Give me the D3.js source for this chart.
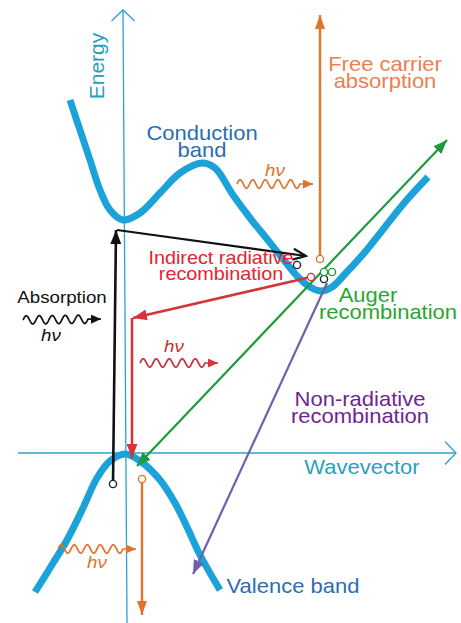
<!DOCTYPE html>
<html>
<head>
<meta charset="utf-8">
<script src="https://cdn.jsdelivr.net/npm/d3@7"></script>
<style>
body{margin:0;background:#fff;}
text{font-family:"Liberation Sans",Arial,Helvetica,sans-serif;}
</style>
</head>
<body>
<script>
(function(){

//band structure, points as [wavevector k, energy E]
var conductionBand = [[-0.53,3.53],[-0.43,3.23],[-0.33,2.93],[-0.23,2.63],[-0.13,2.43],[0,2.33],[0.17,2.40],[0.37,2.60],[0.57,2.80],[0.79,2.90],[0.92,2.85],[1.10,2.58],[1.27,2.35],[1.44,2.14],[1.60,1.94],[1.74,1.77],[1.87,1.66],[1.98,1.62],[2.09,1.66],[2.22,1.79],[2.42,2.01],[2.82,2.51],[3.05,2.76]];
var valenceBand = [[-0.88,-1.39],[-0.73,-1.15],[-0.56,-0.87],[-0.40,-0.55],[-0.26,-0.25],[-0.13,-0.08],[0.02,-0.01],[0.17,-0.08],[0.37,-0.27],[0.52,-0.50],[0.64,-0.74],[0.77,-1.02],[0.97,-1.37]];

//axes
var energyAxis = [[0,4.43],[0.04,-1.70]];
var wavevectorAxis = [[-1.05,0],[3.33,0]];

//transitions [from, to]
var absorptionUp = [[-0.10,-0.31],[-0.07,2.23]];
var absorptionOver = [[-0.06,2.23],[1.83,1.97]];
var freeCarrierUp = [[1.97,1.94],[1.97,4.38]];
var indirectOver = [[1.88,1.76],[0.10,1.35]];
var indirectDown = [[0.09,1.35],[0.09,-0.05]];
var augerLine = [[0.14,-0.13],[3.24,3.13]];
var nonRadiative = [[2.04,1.70],[0.70,-1.21]];
var holeDown = [[0.19,-0.26],[0.19,-1.62]];

//carrier circles
var blackCarriers = [[-0.10,-0.31],[1.74,1.88],[2.01,1.74]];
var orangeCarriers = [[1.97,1.94],[0.19,-0.26]];
var redCarriers = [[1.88,1.76]];
var greenCarriers = [[2.01,1.81],[2.09,1.81]];

//photons [start, end]
var photonTop = [[1.14,2.69],[1.90,2.69]];
var photonAbs = [[-1.00,1.33],[-0.22,1.34]];
var photonRad = [[0.17,0.90],[0.95,0.90]];
var photonLow = [[-0.65,-0.96],[0.13,-0.96]];

//label texts
var conductionText = ["Conduction", "band"];
var valenceText = ["Valence band"];
var freeCarrierText = ["Free carrier", "absorption"];
var indirectText = ["Indirect radiative", "recombination"];
var absorptionText = ["Absorption"];
var augerText = ["Auger", "recombination"];
var nonRadText = ["Non-radiative", "recombination"];

var width = 461, height = 623;

var x = d3.scaleLinear().domain([-1.23, 3.38]).range([0, width]);
var y = d3.scaleLinear().domain([4.53, -1.70]).range([0, height]);

var svg = d3.select("body").append("svg")
    .attr("width", width)
    .attr("height", height);

var defs = svg.append("defs");

//filled triangle markers
function addMarker(id, color, len, wid){
    defs.append("marker")
        .attr("id", id)
        .attr("markerUnits", "userSpaceOnUse")
        .attr("viewBox", "0 0 " + len + " " + wid)
        .attr("refX", len).attr("refY", wid / 2)
        .attr("markerWidth", len).attr("markerHeight", wid)
        .attr("orient", "auto-start-reverse")
        .append("path")
        .attr("d", "M0,0L" + len + "," + (wid / 2) + "L0," + wid + "Z")
        .attr("fill", color);
}
addMarker("mBlack", "#111", 14, 11);
addMarker("mOrange", "#e0742c", 14, 10);
addMarker("mRed", "#d2363a", 14, 11);
addMarker("mGreen", "#1f9a3c", 14, 11);
addMarker("mPurple", "#6b62aa", 14, 11);
addMarker("mOrangeS", "#e0742c", 10, 9);
addMarker("mBlackS", "#111", 10, 9);
addMarker("mRedS", "#d2363a", 10, 9);

//open chevron markers
function addChevron(id, color, len, wid, sw){
    defs.append("marker")
        .attr("id", id)
        .attr("markerUnits", "userSpaceOnUse")
        .attr("viewBox", (-2) + " " + (-2) + " " + (len + 4) + " " + (wid + 4))
        .attr("refX", len).attr("refY", wid / 2)
        .attr("markerWidth", len + 4).attr("markerHeight", wid + 4)
        .attr("orient", "auto-start-reverse")
        .append("path")
        .attr("d", "M0,0L" + len + "," + (wid / 2) + "L0," + wid)
        .attr("fill", "none")
        .attr("stroke", color)
        .attr("stroke-width", sw);
}
addChevron("mAxis", "#29a3d5", 11, 23, 1.3);
addChevron("mBarb", "#111", 13, 11, 2.2);

var line = d3.line()
    .x(function(d){ return x(d[0]); })
    .y(function(d){ return y(d[1]); });

//axes
svg.append("path").datum(energyAxis)
    .attr("d", line)
    .attr("stroke", "#29a3d5").attr("stroke-width", 1.3).attr("fill", "none")
    .attr("marker-start", "url(#mAxis)");
svg.append("path").datum(wavevectorAxis)
    .attr("d", line)
    .attr("stroke", "#29a3d5").attr("stroke-width", 1.3).attr("fill", "none")
    .attr("marker-end", "url(#mAxis)");

//bands
var bandLine = d3.line()
    .x(function(d){ return x(d[0]); })
    .y(function(d){ return y(d[1]); })
    .curve(d3.curveCatmullRom.alpha(0.5));

svg.selectAll(".band")
    .data([conductionBand, valenceBand])
    .enter()
    .append("path")
    .attr("class", "band")
    .attr("d", bandLine)
    .attr("fill", "none")
    .attr("stroke", "#1ba3d9")
    .attr("stroke-width", 7);

//transition arrows
function arrow(pts, color, sw, endMarker, startMarker){
    var p = svg.append("path").datum(pts)
        .attr("d", line)
        .attr("fill", "none")
        .attr("stroke", color)
        .attr("stroke-width", sw);
    if (endMarker) p.attr("marker-end", "url(#" + endMarker + ")");
    if (startMarker) p.attr("marker-start", "url(#" + startMarker + ")");
    return p;
}
arrow(absorptionUp, "#111", 2.6, "mBlack");
arrow(absorptionOver, "#111", 2.2, "mBarb");
arrow(freeCarrierUp, "#e0742c", 2.4, "mOrange");
arrow(indirectOver, "#d2363a", 2.6, "mRed");
arrow(indirectDown, "#d2363a", 2.6, "mRed");
arrow(augerLine, "#1f9a3c", 2.2, "mGreen", "mGreen");
arrow(nonRadiative, "#6b62aa", 2.2, "mPurple");
arrow(holeDown, "#e0742c", 2.4, "mOrange");

//carriers
function carriers(data, color){
    svg.append("g").selectAll("circle")
        .data(data)
        .enter()
        .append("circle")
        .attr("cx", function(d){ return x(d[0]); })
        .attr("cy", function(d){ return y(d[1]); })
        .attr("r", 3.6)
        .attr("fill", "#fff")
        .attr("stroke", color)
        .attr("stroke-width", 1.4);
}
carriers(blackCarriers, "#222");
carriers(orangeCarriers, "#e0742c");
carriers(redCarriers, "#d2363a");
carriers(greenCarriers, "#1f9a3c");

//photon squiggles: sine wave from start, short straight run, arrow tip at end
function photon(pts, color, marker){
    var x0 = x(pts[0][0]), y0 = y(pts[0][1]),
        xt = x(pts[1][0]), yt = y(pts[1][1]),
        x1 = xt - 13, y1 = y0 + (yt - y0) * (x1 - x0) / (xt - x0);
    var n = 90, waves = 5, amp = 4.2, wp = [];
    for (var i=0; i<=n; i++){
        var t = i / n;
        wp.push([x0 + (x1 - x0) * t, y0 + (y1 - y0) * t - amp * Math.sin(t * waves * 2 * Math.PI)]);
    }
    wp.push([xt, yt]);
    svg.append("path")
        .attr("d", d3.line()(wp))
        .attr("fill", "none")
        .attr("stroke", color)
        .attr("stroke-width", 1.7)
        .attr("marker-end", "url(#" + marker + ")");
}
photon(photonTop, "#e0742c", "mOrangeS");
photon(photonAbs, "#111", "mBlackS");
photon(photonRad, "#c9303a", "mRedS");
photon(photonLow, "#e0742c", "mOrangeS");

//text blocks: lines, centre k, first baseline E, line gap (px), colour, size
//the reference lettering is a little wider than Arial, hence scale(1.1,1)
function label(lines, k, E, gap, color, size, offsets){
    var t = svg.append("text")
        .attr("transform", "translate(" + x(k) + "," + y(E) + ") scale(1.1,1)")
        .attr("text-anchor", "middle")
        .attr("fill", color)
        .style("font-size", size + "px");
    t.selectAll("tspan")
        .data(lines)
        .enter()
        .append("tspan")
        .attr("x", function(d, i){ return offsets ? offsets[i] / 1.1 : 0; })
        .attr("y", function(d, i){ return i * gap; })
        .text(function(d){ return d; });
}
label(conductionText, 0.79, 3.13, 17, "#2a6db3", 20);
label(valenceText, 1.70, -1.40, 0, "#2a6db3", 20);
label(freeCarrierText, 2.62, 3.82, 17, "#ec7f52", 20);
label(indirectText, 0.98, 1.89, 16, "#e5242e", 18);
label(absorptionText, -0.61, 1.50, 0, "#111", 17);
label(augerText, 2.65, 1.51, 17, "#2aa52f", 20, [-20, 0]);
label(nonRadText, 2.37, 0.47, 17, "#6c2592", 20);
label(["Wavevector"], 2.39, -0.21, 0, "#2a9fbc", 20);

svg.append("text")
    .attr("transform", "translate(" + x(-0.19) + "," + y(3.87) + ") rotate(-90)")
    .attr("text-anchor", "middle")
    .attr("fill", "#2a9fbc")
    .style("font-size", "21px")
    .text("Energy");

//photon labels
var hvLabels = [
    {k:1.52, E:2.77, c:"#e0742c"},
    {k:-0.72, E:1.12, c:"#111"},
    {k:0.51, E:1.01, c:"#c9303a"},
    {k:-0.26, E:-1.15, c:"#e0742c"}
];
svg.selectAll(".hv")
    .data(hvLabels)
    .enter()
    .append("text")
    .attr("class", "hv")
    .attr("transform", function(d){ return "translate(" + x(d.k) + "," + y(d.E) + ") scale(1.1,1)"; })
    .attr("text-anchor", "middle")
    .attr("fill", function(d){ return d.c; })
    .style("font-size", "17px")
    .style("font-style", "italic")
    .text("hν");

})();
</script>
</body>
</html>
